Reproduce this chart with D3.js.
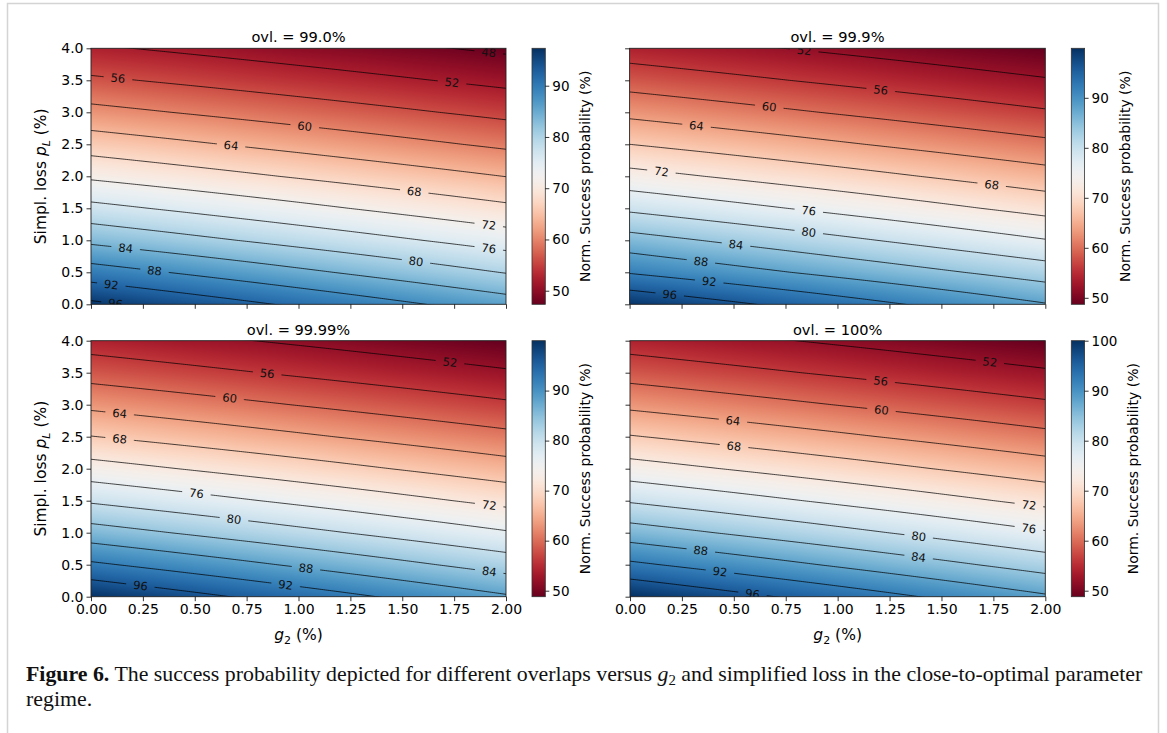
<!DOCTYPE html>
<html><head><meta charset="utf-8">
<script src="https://cdn.jsdelivr.net/npm/d3@7"></script>
<style>body{margin:0;background:#fff;} svg{display:block;}</style>
</head><body>
<svg id="chart" width="1167" height="733"></svg>
<script>
// ---------- data ----------
const pLGrid = [0, 0.5, 1, 1.5, 2, 2.5, 3, 3.5, 4];      // simplified loss (%)
const g2Range = [0, 2];                                    // g2 (%) at the two edges
const titles = ["ovl. = 99.0%", "ovl. = 99.9%", "ovl. = 99.99%", "ovl. = 100%"];
// normalised success probability (%) along g2 = 0 (left) and g2 = 2 (right)
const p1Left  = [96.8, 89.85, 83.14, 77.15, 71.36, 66.14, 61.2, 56.63, 52.51];
const p1Right = [85.9, 79.82, 74.2, 68.86, 63.94, 59.28, 55.0, 51.0, 47.32];
const p2Left  = [99.4, 91.72, 85.6, 79.25, 73.39, 68.0, 62.99, 58.29, 54.0];
const p2Right = [88.24, 82.12, 76.19, 70.67, 65.66, 60.93, 56.44, 52.33, 48.6];
const p3Left  = [99.8, 92.66, 85.8, 79.5, 73.63, 68.11, 63.1, 58.42, 54.17];
const p3Right = [88.46, 82.26, 76.36, 70.9, 65.82, 61.08, 56.64, 52.48, 48.66];
const p4Left  = [100.0, 92.75, 85.94, 79.62, 73.71, 68.24, 63.14, 58.44, 54.2];
const p4Right = [88.52, 82.29, 76.37, 70.93, 65.86, 61.12, 56.68, 52.52, 48.7];
const cbarMin = [47.35, 48.7, 48.8, 48.8];
const cbarMax = [97.3, 99.9, 99.97, 100.0];
const contourLevels = [48, 52, 56, 60, 64, 68, 72, 76, 80, 84, 88, 92, 96];
const xTicks = [0, 0.25, 0.5, 0.75, 1.0, 1.25, 1.5, 1.75, 2.0];
const yTicks = [0, 0.5, 1.0, 1.5, 2.0, 2.5, 3.0, 3.5, 4.0];
// contour label levels and the g2 value where each label sits
const lab1Levels = [48, 52, 56, 60, 64, 68, 72, 76, 80, 84, 88, 92, 96];
const lab1G2     = [1.917, 1.74, 0.13, 1.03, 0.675, 1.558, 1.917, 1.917, 1.566, 0.167, 0.306, 0.098, 0.118];
const lab2Levels = [52, 56, 60, 64, 68, 72, 76, 80, 84, 88, 92, 96];
const lab2G2     = [0.84, 1.208, 0.672, 0.322, 1.742, 0.153, 0.862, 0.862, 0.512, 0.343, 0.383, 0.193];
const lab3Levels = [52, 56, 60, 64, 68, 72, 76, 80, 84, 88, 92, 96];
const lab3G2     = [1.73, 0.849, 0.668, 0.138, 0.138, 1.919, 0.508, 0.689, 1.919, 1.036, 0.938, 0.238];
const lab4Levels = [52, 56, 60, 64, 68, 72, 76, 80, 84, 88, 92, 96];
const lab4G2     = [1.733, 1.207, 1.211, 0.496, 0.501, 1.921, 1.921, 1.39, 1.39, 0.341, 0.433, 0.59];

// ---------- layout ----------
const FONT = "DejaVu Sans, sans-serif";
const panels = [
  {left: p1Left, right: p1Right, labL: lab1Levels, labG: lab1G2, x0: 91,    x1: 506,    y0: 48.3,  y1: 304.3, cbx: 532,    showX: false, showY: true},
  {left: p2Left, right: p2Right, labL: lab2Levels, labG: lab2G2, x0: 629.6, x1: 1045.3, y0: 48.3,  y1: 304.3, cbx: 1071.3, showX: false, showY: false},
  {left: p3Left, right: p3Right, labL: lab3Levels, labG: lab3G2, x0: 91,    x1: 506,    y0: 340.7, y1: 596.7, cbx: 532,    showX: true,  showY: true},
  {left: p4Left, right: p4Right, labL: lab4Levels, labG: lab4G2, x0: 630,   x1: 1045.3, y0: 340.7, y1: 596.7, cbx: 1071.3, showX: true,  showY: false}
];
const CBW = 13.3;

const svg = d3.select("#chart");
svg.append("rect").attr("width", 1167).attr("height", 733).attr("fill", "#fff");
const defs = svg.append("defs");

// page frame
svg.append("path").attr("d", "M7.5,733 V3.5 H1158.5 V733")
  .attr("fill", "none").attr("stroke", "#d4d4d4").attr("stroke-width", 1.5);

function styleAxis(size) {
  return g => {
    g.select(".domain").remove();
    g.selectAll(".tick line").attr("stroke", "#000").attr("stroke-width", 0.8);
    g.selectAll(".tick text").attr("fill", "#000").attr("font-family", FONT).attr("font-size", size);
  };
}

panels.forEach((p, k) => {
  const x = d3.scaleLinear().domain(g2Range).range([p.x0, p.x1]);
  const y = d3.scaleLinear().domain([pLGrid[0], pLGrid[pLGrid.length - 1]]).range([p.y1, p.y0]);
  const color = d3.scaleSequential(d3.interpolateRdBu).domain([cbarMin[k], cbarMax[k]]);
  const colL = d3.scaleLinear().domain(pLGrid).range(p.left);
  const colR = d3.scaleLinear().domain(pLGrid).range(p.right);
  const gNorm = d3.scaleLinear().domain(g2Range).range([0, 1]);
  const field = (g, l) => d3.interpolateNumber(colL(l), colR(l))(gNorm(g));

  // heat map
  const W = Math.round(p.x1 - p.x0), H = Math.round(p.y1 - p.y0);
  const cv = document.createElement("canvas");
  cv.width = W; cv.height = H;
  const ctx = cv.getContext("2d");
  const img = ctx.createImageData(W, H);
  for (let j = 0; j < H; j++) {
    const l = y.invert(p.y0 + (j + 0.5) * (p.y1 - p.y0) / H);
    const cl = colL(l), cr = colR(l);
    for (let i = 0; i < W; i++) {
      const g = x.invert(p.x0 + (i + 0.5) * (p.x1 - p.x0) / W);
      const v = cl + (cr - cl) * gNorm(g);
      const c = d3.rgb(color(v));
      const o = (j * W + i) * 4;
      img.data[o] = c.r; img.data[o + 1] = c.g; img.data[o + 2] = c.b; img.data[o + 3] = 255;
    }
  }
  ctx.putImageData(img, 0, 0);
  svg.append("image").attr("href", cv.toDataURL())
    .attr("x", p.x0).attr("y", p.y0).attr("width", p.x1 - p.x0).attr("height", p.y1 - p.y0)
    .attr("preserveAspectRatio", "none");

  // clip + mask
  const clipId = "clip" + k, maskId = "mask" + k;
  defs.append("clipPath").attr("id", clipId).append("rect")
    .attr("x", p.x0).attr("y", p.y0).attr("width", p.x1 - p.x0).attr("height", p.y1 - p.y0);
  const mask = defs.append("mask").attr("id", maskId).attr("maskUnits", "userSpaceOnUse")
    .attr("x", 0).attr("y", 0).attr("width", 1167).attr("height", 733);
  mask.append("rect").attr("width", 1167).attr("height", 733).attr("fill", "#fff");

  const ext = d3.extent(p.left.concat(p.right));
  const levels = contourLevels.filter(v => v > ext[0] && v < ext[1]);
  const contourAt = (lev, g) => {
    const col = pLGrid.map(l => field(g, l));
    return d3.scaleLinear().domain(col).range(pLGrid)(lev);
  };
  const gSamples = d3.range(0, 2.0001, 0.01);
  const line = d3.line().x(d => x(d[0])).y(d => y(d[1]));

  const cg = svg.append("g").attr("clip-path", `url(#${clipId})`);
  const lines = cg.append("g").attr("mask", `url(#${maskId})`);
  levels.forEach(lev => {
    const pts = gSamples.map(g => [g, contourAt(lev, g)]);
    lines.append("path").attr("d", line(pts)).attr("fill", "none")
      .attr("stroke", "#000").attr("stroke-width", 0.85).attr("stroke-opacity", 0.85);
  });

  // contour labels
  p.labL.forEach((lev, i) => {
    const g = p.labG[i];
    const l = contourAt(lev, g);
    const px = x(g), py = y(l);
    const px2 = x(g + 0.02), py2 = y(contourAt(lev, g + 0.02));
    const ang = Math.atan2(py2 - py, px2 - px) * 180 / Math.PI;
    const t = cg.append("text").text(String(lev))
      .attr("transform", `translate(${px},${py}) rotate(${ang})`)
      .attr("text-anchor", "middle").attr("dy", "0.36em")
      .attr("font-family", FONT).attr("font-size", 11.5).attr("fill", "#111");
    const w = t.node().getComputedTextLength();
    mask.append("rect").attr("x", -w / 2 - 7).attr("y", -7).attr("width", w + 14).attr("height", 14)
      .attr("transform", `translate(${px},${py}) rotate(${ang})`).attr("fill", "#000");
  });

  // frame
  svg.append("rect").attr("x", p.x0).attr("y", p.y0).attr("width", p.x1 - p.x0).attr("height", p.y1 - p.y0)
    .attr("fill", "none").attr("stroke", "#222").attr("stroke-width", 0.9);

  // axes
  const xa = d3.axisBottom(x).tickValues(xTicks).tickSize(4.5).tickSizeOuter(0).tickPadding(3)
    .tickFormat(p.showX ? d3.format(".2f") : () => "");
  svg.append("g").attr("transform", `translate(0,${p.y1})`).call(xa).call(styleAxis(14));
  const ya = d3.axisLeft(y).tickValues(yTicks).tickSize(4.5).tickSizeOuter(0).tickPadding(3)
    .tickFormat(p.showY ? d3.format(".1f") : () => "");
  svg.append("g").attr("transform", `translate(${p.x0},0)`).call(ya).call(styleAxis(14));

  // title
  svg.append("text").text(titles[k]).attr("x", (p.x0 + p.x1) / 2).attr("y", p.y0 - 6)
    .attr("text-anchor", "middle").attr("font-family", FONT).attr("font-size", 14.6).attr("fill", "#000");

  if (p.showY) {
    const t = svg.append("text").attr("transform", `translate(41,${(p.y0 + p.y1) / 2}) rotate(-90)`)
      .attr("text-anchor", "middle").attr("dy", "0.35em").attr("font-family", FONT).attr("font-size", 15.5).attr("fill", "#000");
    t.append("tspan").text("Simpl. loss ");
    t.append("tspan").text("p").attr("font-style", "italic");
    t.append("tspan").text("L").attr("font-style", "italic").attr("font-size", 11).attr("dy", 3.5);
    t.append("tspan").text(" (%)").attr("dy", -3.5);
  }
  if (p.showX) {
    const t = svg.append("text").attr("x", (p.x0 + p.x1) / 2).attr("y", 640)
      .attr("text-anchor", "middle").attr("font-family", FONT).attr("font-size", 15.5).attr("fill", "#000");
    t.append("tspan").text("g").attr("font-style", "italic");
    t.append("tspan").text("2").attr("font-size", 11).attr("dy", 3.5);
    t.append("tspan").text(" (%)").attr("dy", -3.5);
  }

  // colorbar
  const gradId = "grad" + k;
  const grad = defs.append("linearGradient").attr("id", gradId)
    .attr("x1", 0).attr("y1", 1).attr("x2", 0).attr("y2", 0);
  d3.range(0, 1.0001, 0.02).forEach(t => {
    grad.append("stop").attr("offset", t).attr("stop-color", color(cbarMin[k] + t * (cbarMax[k] - cbarMin[k])));
  });
  svg.append("rect").attr("x", p.cbx).attr("y", p.y0).attr("width", CBW).attr("height", p.y1 - p.y0)
    .attr("fill", `url(#${gradId})`).attr("stroke", "#333").attr("stroke-width", 0.8);
  const cs = d3.scaleLinear().domain([cbarMin[k], cbarMax[k]]).range([p.y1, p.y0]);
  const ca = svg.append("g").attr("transform", `translate(${p.cbx + CBW},0)`)
    .call(d3.axisRight(cs).ticks(5).tickFormat(d3.format("d")).tickSize(4).tickSizeOuter(0).tickPadding(3))
    .call(styleAxis(13.5));
  let maxW = 0;
  ca.selectAll(".tick text").each(function () { maxW = Math.max(maxW, this.getComputedTextLength()); });
  svg.append("text").text("Norm. Success probability (%)")
    .attr("transform", `translate(${p.cbx + CBW + 7 + maxW + 16},${(p.y0 + p.y1) / 2}) rotate(-90)`)
    .attr("text-anchor", "middle").attr("dy", "0.35em")
    .attr("font-family", FONT).attr("font-size", 14).attr("fill", "#000");
});

// caption
const SERIF = "Liberation Serif, Times New Roman, serif";
const cap = svg.append("text").attr("x", 26).attr("y", 681).attr("font-family", SERIF).attr("font-size", 18).attr("fill", "#111");
cap.append("tspan").text("Figure 6.").attr("font-weight", "bold");
cap.append("tspan").text(" The success probability depicted for different overlaps versus ");
cap.append("tspan").text("g").attr("font-style", "italic");
cap.append("tspan").text("2").attr("font-size", 12).attr("dy", 4);
cap.append("tspan").text(" and simplified loss in the close-to-optimal parameter").attr("dy", -4);
const cw = cap.node().getComputedTextLength();
const fs = 18 * 1117 / cw;
cap.attr("font-size", fs);
cap.selectAll("tspan").filter(function () { return this.textContent === "2"; }).attr("font-size", fs * 0.68);
svg.append("text").text("regime.").attr("x", 26).attr("y", 706)
  .attr("font-family", SERIF).attr("font-size", fs).attr("fill", "#111");
</script>
</body></html>
